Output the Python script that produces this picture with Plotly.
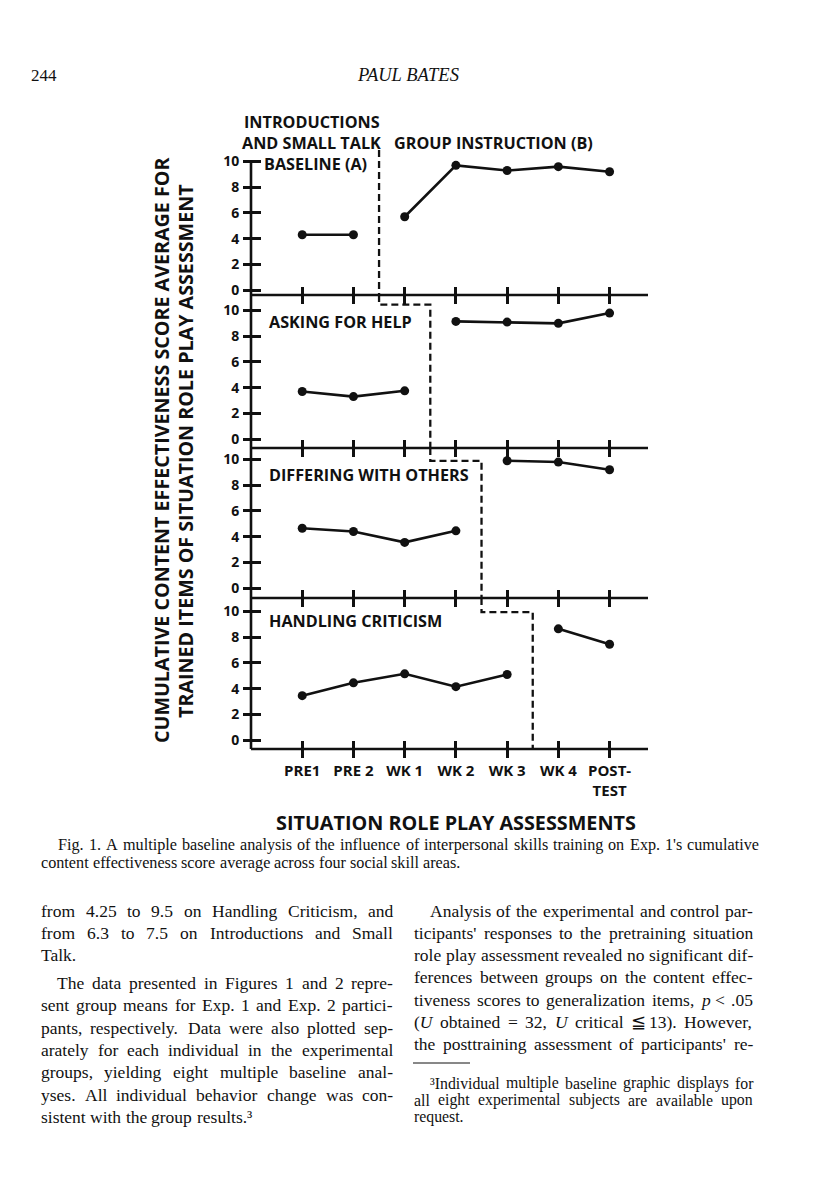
import re
import plotly.graph_objects as go

# ---------------- data ----------------
categories = ["PRE1", "PRE 2", "WK 1", "WK 2", "WK 3", "WK 4", "POST-<br>TEST"]
sessions = [1, 2, 3, 4, 5, 6, 7]
intro_small_talk = [4.3, 4.3, 5.7, 9.7, 9.3, 9.6, 9.2]
asking_for_help = [3.7, 3.3, 3.75, 9.15, 9.1, 9.0, 9.8]
differing_with_others = [4.65, 4.4, 3.55, 4.45, 9.9, 9.8, 9.2]
handling_criticism = [3.45, 4.45, 5.15, 4.15, 5.1, 8.65, 7.45]
panel_labels = ["BASELINE (A)", "ASKING FOR HELP", "DIFFERING WITH OTHERS", "HANDLING CRITICISM"]
baseline_sessions = [2, 3, 4, 5]          # sessions in baseline per panel
phase_change = [2.5, 3.5, 4.5, 5.5]       # where the dashed phase line falls
step_level = [10.9, 10.45, 9.9, 9.95]     # height of the dashed step in each panel
y_ticks = [0, 2, 4, 6, 8, 10]

series = [intro_small_talk, asking_for_help, differing_with_others, handling_criticism]

# ---------------- layout geometry (pixels on the page) ----------------
W, H = 816, 1195
OFF = 8  # page body margin of the browser
def px(x):
    return (x - OFF) / W
def py(y):
    return 1 - (y - OFF) / H

X_LEFT, X_RIGHT = 251, 648
X_RANGE = [0, 7.75]
P_TOP = [148, 295, 448, 598]
P_BOT = [295, 448, 598, 749]
P_ZERO = [290, 439, 588, 740]
SCALE = 12.85

SANS = "'Open Sans', Lato, 'DejaVu Sans', sans-serif"
SERIF = "'Liberation Serif', 'DejaVu Serif', serif"
INK = "#111111"
LW = 2.6

fig = go.Figure()
layout = dict(
    width=W, height=H, margin=dict(l=0, r=0, t=0, b=0),
    paper_bgcolor="white", plot_bgcolor="white", showlegend=False,
    font=dict(family=SANS, color=INK),
)
shapes = []
annotations = []

for k in range(4):
    s = "" if k == 0 else str(k + 1)
    xa, ya = "x" + s, "y" + s
    ymin = -(P_BOT[k] - P_ZERO[k]) / SCALE
    ymax = (P_ZERO[k] - P_TOP[k]) / SCALE
    layout["xaxis" + s] = dict(
        domain=[px(X_LEFT), px(X_RIGHT)], range=X_RANGE, anchor="free",
        position=py(P_BOT[k] - 9), showline=False, showgrid=False, zeroline=False,
        tickmode="array", tickvals=sessions, ticktext=categories,
        ticks="outside", ticklen=17, tickwidth=LW, tickcolor=INK,
        showticklabels=(k == 3),
        tickfont=dict(family=SANS, size=15, color=INK, weight="bold"),
        fixedrange=True, automargin=False,
    )
    layout["yaxis" + s] = dict(
        domain=[py(P_BOT[k]), py(P_TOP[k])], range=[ymin, ymax], anchor="free",
        position=px(X_LEFT + 10), showline=False, showgrid=False, zeroline=False,
        tickmode="array", tickvals=y_ticks,
        ticks="outside", ticklen=18, tickwidth=LW, tickcolor=INK,
        tickfont=dict(family=SANS, size=14, color=INK, weight="bold"),
        ticklabelstandoff=1,
        fixedrange=True, automargin=False,
    )
    # vertical spine
    shapes.append(dict(type="line", xref=xa + " domain", yref=ya,
                       x0=0, x1=0, y0=ymin, y1=(10 if k == 0 else ymax),
                       line=dict(color=INK, width=LW)))
    # horizontal axis line
    shapes.append(dict(type="line", xref=xa + " domain", yref=ya + " domain",
                       x0=0, x1=1, y0=0, y1=0,
                       line=dict(color=INK, width=LW)))

    vals = series[k]
    n = baseline_sessions[k]
    for xs, ys in ((sessions[:n], vals[:n]), (sessions[n:], vals[n:])):
        fig.add_trace(go.Scatter(
            x=xs, y=ys, xaxis=xa, yaxis=ya, mode="lines+markers",
            line=dict(color=INK, width=2.6), marker=dict(color=INK, size=9),
            cliponaxis=False, hoverinfo="skip"))

    # dashed phase-change line
    if k == 0:
        dx = [phase_change[0], phase_change[0]]
        dy = [step_level[0], ymin]
    else:
        dx = [phase_change[k - 1], phase_change[k - 1], phase_change[k], phase_change[k]]
        dy = [ymax, step_level[k], step_level[k], ymin]
    fig.add_trace(go.Scatter(
        x=dx, y=dy, xaxis=xa, yaxis=ya, mode="lines",
        line=dict(color=INK, width=2.3, dash="7px,4px"), hoverinfo="skip"))


def txt(text, x, y, size, family=SANS, bold=True, xanchor="center", yanchor="middle",
        italic=False, angle=0):
    annotations.append(dict(
        text=text, x=px(x), y=py(y), xref="paper", yref="paper",
        xanchor=xanchor, yanchor=yanchor, showarrow=False, textangle=angle,
        borderpad=0,
        font=dict(family=family, size=size, color=INK,
                  weight="bold" if bold else "normal",
                  style="italic" if italic else "normal")))

# chart texts
LAB = 16.2
txt("INTRODUCTIONS", 312, 122, LAB)
txt("AND SMALL TALK", 311, 143, LAB)
txt("GROUP INSTRUCTION (B)", 493, 143, LAB)
label_pos = [(263, 164), (268, 322), (268, 475), (268, 621)]
for lab, (lx, ly) in zip(panel_labels, label_pos):
    txt(lab, lx, ly, LAB, xanchor="left")
txt("CUMULATIVE CONTENT EFFECTIVENESS SCORE AVERAGE FOR", 161, 451, 19.7, angle=-90)
txt("TRAINED ITEMS OF SITUATION ROLE PLAY ASSESSMENT", 185, 451, 19.7, angle=-90)
txt("SITUATION ROLE PLAY ASSESSMENTS", 456, 822, 19.8)

# ---------------- page texts (serif, justified by word placement) ----------------
TIMES = {" ": 250, "!": 333, ",": 250, "-": 333, ".": 250, "'": 180, "(": 333, ")": 333,
         "=": 564, "<": 564, "≦": 600, ":": 278, ";": 278, "³": 300}
for ch in "0123456789":
    TIMES[ch] = 500
TIMES.update(dict(zip("ABCDEFGHIJKLMNOPQRSTUVWXYZ",
                      [722, 667, 667, 722, 611, 556, 722, 722, 333, 389, 722, 611, 889,
                       722, 722, 556, 722, 667, 556, 611, 722, 722, 944, 722, 722, 611])))
TIMES.update(dict(zip("abcdefghijklmnopqrstuvwxyz",
                      [444, 500, 444, 500, 444, 333, 500, 500, 278, 278, 500, 278, 778,
                       500, 500, 500, 500, 333, 389, 278, 500, 500, 722, 500, 500, 444])))


def measure(word, size):
    plain = re.sub(r"<[^>]+>", "", word).replace("&lt;", "<")
    return sum(TIMES.get(c, 500) for c in plain) / 1000 * size


def line(text, x0, x1, y, size, justify=True):
    words = text.split(" ")
    widths = [measure(w, size) for w in words]
    if justify and len(words) > 1:
        gap = (x1 - x0 - sum(widths)) / (len(words) - 1)
    else:
        gap = 0.25 * size
    x = x0
    for w, wd in zip(words, widths):
        txt(w, x, y, size, family=SERIF, bold=False, xanchor="left")
        x += wd + gap


txt("244", 30, 75, 17, family=SERIF, bold=False, xanchor="left")
txt("PAUL BATES", 408, 75, 18.5, family=SERIF, bold=False, italic=True)

CAP = 16.2
line("Fig. 1. A multiple baseline analysis of the influence of interpersonal skills training on Exp. 1's cumulative",
     57, 758, 845, CAP)
line("content effectiveness score average across four social skill areas.", 40, 758, 863, CAP, justify=False)

BODY = 17.5
L0, L1 = 40, 392
R0, R1 = 413, 752
left_col = [
    (L0, 911, "from 4.25 to 9.5 on Handling Criticism, and", True),
    (L0, 933, "from 6.3 to 7.5 on Introductions and Small", True),
    (L0, 955, "Talk.", False),
    (L0 + 16, 983, "The data presented in Figures 1 and 2 repre-", True),
    (L0, 1005, "sent group means for Exp. 1 and Exp. 2 partici-", True),
    (L0, 1028, "pants, respectively. Data were also plotted sep-", True),
    (L0, 1050, "arately for each individual in the experimental", True),
    (L0, 1072, "groups, yielding eight multiple baseline anal-", True),
    (L0, 1095, "yses. All individual behavior change was con-", True),
    (L0, 1117, "sistent with the group results.³", False),
]
right_col = [
    (R0 + 16, 911, "Analysis of the experimental and control par-", True),
    (R0, 933, "ticipants' responses to the pretraining situation", True),
    (R0, 955, "role play assessment revealed no significant dif-", True),
    (R0, 977, "ferences between groups on the content effec-", True),
    (R0, 1000, "tiveness scores to generalization items, <i>p</i> &lt; .05", True),
    (R0, 1022, "(<i>U</i> obtained = 32, <i>U</i> critical ≦ 13). However,", True),
    (R0, 1044, "the posttraining assessment of participants' re-", True),
]
for x, y, t, j in left_col:
    line(t, x, L1, y, BODY, justify=j)
for x, y, t, j in right_col:
    line(t, x, R1, y, BODY, justify=j)

FOOT = 15.8
footnote = [
    (R0 + 16, 1083, "³Individual multiple baseline graphic displays for", True),
    (R0, 1100, "all eight experimental subjects are available upon", True),
    (R0, 1117, "request.", False),
]
for x, y, t, j in footnote:
    line(t, x, R1, y, FOOT, justify=j)
shapes.append(dict(type="line", xref="paper", yref="paper",
                   x0=px(413), x1=px(470), y0=py(1063), y1=py(1063),
                   line=dict(color=INK, width=1)))

layout["shapes"] = shapes
layout["annotations"] = annotations
fig.update_layout(**layout)
fig.write_html("out.html")
